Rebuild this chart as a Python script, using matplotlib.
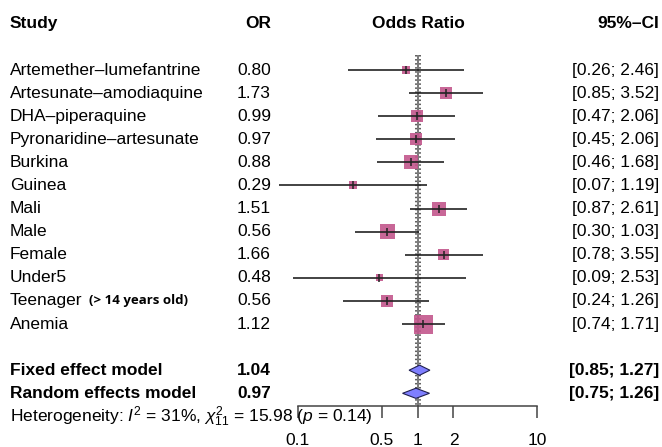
import matplotlib
matplotlib.use('Agg')
import numpy as np
import matplotlib.pyplot as plt
from matplotlib.transforms import blended_transform_factory

plt.rcParams['font.family'] = ['Liberation Sans', 'DejaVu Sans']
plt.rcParams['mathtext.fontset'] = 'custom'
plt.rcParams['mathtext.rm'] = 'Liberation Sans'
plt.rcParams['mathtext.it'] = 'Liberation Sans:italic'

studies = ['Artemether\u2013lumefantrine', 'Artesunate\u2013amodiaquine', 'DHA\u2013piperaquine',
           'Pyronaridine\u2013artesunate', 'Burkina', 'Guinea', 'Mali', 'Male', 'Female',
           'Under5', 'Teenager', 'Anemia']
odds = [0.80, 1.73, 0.99, 0.97, 0.88, 0.29, 1.51, 0.56, 1.66, 0.48, 0.56, 1.12]
lower = [0.26, 0.85, 0.47, 0.45, 0.46, 0.07, 0.87, 0.30, 0.78, 0.09, 0.24, 0.74]
upper = [2.46, 3.52, 2.06, 2.06, 1.68, 1.19, 2.61, 1.03, 3.55, 2.53, 1.26, 1.71]
weights = [3.5, 7.8, 7.8, 7.8, 10.6, 3.5, 10.6, 12.1, 6.5, 2.6, 7.8, 19.5]

models = ['Fixed effect model', 'Random effects model']
model_or = [1.04, 0.97]
model_lo = [0.85, 0.75]
model_hi = [1.27, 1.26]

ticks = [0.1, 0.5, 1, 2, 10]
tick_labels = ['0.1', '0.5', '1', '2', '10']

W, H = 662, 447
fig = plt.figure(figsize=(W / 100, H / 100), dpi=100)
ax = fig.add_axes([298 / W, 1 - 406 / H, 239 / W, (406 - 55) / H])
ax.set_xscale('log')
ax.set_xlim(0.1, 10)
ytop, ybot = -0.65, 14.55
ax.set_ylim(ybot, ytop)

rows = np.arange(len(studies))
sum_rows = np.array([13, 14])

# reference lines
ax.vlines(1, ytop, ybot, color='#555555', lw=1.1, zorder=1)
ax.vlines(model_or, ytop, ybot, color='#333333', lw=1.1, linestyles=':', zorder=1)

# boxes, whiskers (whiskers may run past the axis limits)
sides = 4.3 * np.sqrt(weights) / 1.389
ax.scatter(odds, rows, s=sides ** 2, marker='s', color='#c2568c', alpha=0.9,
           edgecolors='none', zorder=2)
ax.hlines(rows, lower, upper, color='#222222', lw=1.2, zorder=3, clip_on=False)
ax.scatter(odds, rows, s=30, marker='|', color='#222222', lw=1.1, zorder=4)

# diamonds
for y, m, lo, hi in zip(sum_rows, model_or, model_lo, model_hi):
    h = 0.22
    ax.fill([lo, m, hi, m], [y, y - h, y, y + h], facecolor='#7f7fff',
            edgecolor='#202050', lw=0.8, zorder=3)

for s in ['top', 'left', 'right']:
    ax.spines[s].set_visible(False)
ax.spines['bottom'].set_bounds(0.1, 10)
ax.spines['bottom'].set_color('#444444')
ax.spines['bottom'].set_linewidth(1.1)
ax.set_yticks([])
ax.set_xticks(ticks)
ax.set_xticklabels(tick_labels, fontsize=12.5)
ax.minorticks_off()
ax.tick_params(axis='x', direction='out', length=8.6, width=1.1, color='#444444', pad=10.5)

tr = blended_transform_factory(fig.transFigure, ax.transData)
fs = 12.5

ax.text(10 / W, -2, 'Study', transform=tr, fontsize=fs, fontweight='bold', va='center')
ax.text(271 / W, -2, 'OR', transform=tr, fontsize=fs, fontweight='bold', va='center', ha='right')
ax.text(418 / W, -2, 'Odds Ratio', transform=tr, fontsize=fs, fontweight='bold', va='center', ha='center')
ax.text(659 / W, -2, '95%\u2013CI', transform=tr, fontsize=fs, fontweight='bold', va='center', ha='right')

for y, name, o, lo, hi in zip(rows, studies, odds, lower, upper):
    t = ax.text(10 / W, y, name, transform=tr, fontsize=fs, va='center')
    if name == 'Teenager':
        ax.annotate('  (> 14 years old)', xy=(1, 0.5), xycoords=t, va='center',
                    fontsize=9.5, fontweight='bold', family=['Open Sans', 'DejaVu Sans'])
    ax.text(271 / W, y, '%.2f' % o, transform=tr, fontsize=fs, va='center', ha='right')
    ax.text(659 / W, y, '[%.2f; %.2f]' % (lo, hi), transform=tr, fontsize=fs, va='center', ha='right')

for y, name, o, lo, hi in zip(sum_rows, models, model_or, model_lo, model_hi):
    ax.text(10 / W, y, name, transform=tr, fontsize=fs, va='center', fontweight='bold')
    ax.text(271 / W, y, '%.2f' % o, transform=tr, fontsize=fs, va='center', ha='right', fontweight='bold')
    ax.text(659 / W, y, '[%.2f; %.2f]' % (lo, hi), transform=tr, fontsize=fs, va='center',
            ha='right', fontweight='bold')

ax.text(10 / W, 15, r'Heterogeneity: $I^2$ = 31%, $\chi^2_{11}$ = 15.98 ($p$ = 0.14)',
        transform=tr, fontsize=12.5, va='center')

fig.savefig('out.png', dpi=100)
